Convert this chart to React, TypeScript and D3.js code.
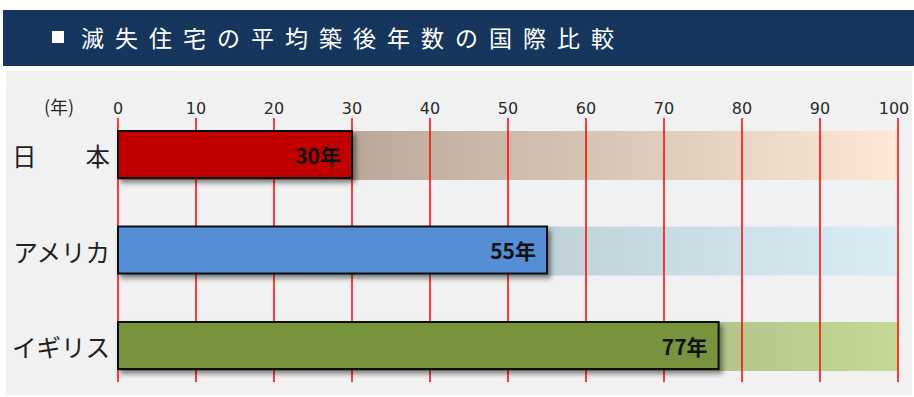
import React from "react";
import * as d3 from "d3";

const title = "滅失住宅の平均築後年数の国際比較";
const categories = ["日　　本", "アメリカ", "イギリス"];
const values = [30, 55, 77];
const valueLabels = ["30年", "55年", "77年"];
const ticks = [0, 10, 20, 30, 40, 50, 60, 70, 80, 90, 100];
const unitLabel = "(年)";
const barColors = ["#c00000", "#558ed5", "#77933c"];
const bandFrom = ["#bba89a", "#c0d2d8", "#b3c58c"];
const bandTo = ["#fde8d6", "#d9edf5", "#c4da95"];

const W = 914;
const H = 397;

export default function App() {
  const x = d3.scaleLinear().domain([0, 100]).range([118, 898]);
  const bh = 47;
  const centers = [154.5, 252.5, 345.5];
  const yc = d3.scaleLinear().domain([0, 2]).range([centers[0], centers[2]]);
  const font = "'Noto Sans CJK JP', 'Noto Sans', sans-serif";
  return (
    <div style={{ position: "absolute", left: 0, top: 0 }}>
      <svg width={W} height={H} style={{ display: "block" }}>
        <defs>
          <filter id="sh" x="-5%" y="-20%" width="115%" height="160%">
            <feDropShadow dx="3" dy="4" stdDeviation="2.5" floodColor="#000" floodOpacity="0.45" />
          </filter>
          {values.map((v, i) => (
            <linearGradient
              key={i}
              id={`g${i}`}
              gradientUnits="userSpaceOnUse"
              x1={x(v)}
              x2={x(100)}
              y1={0}
              y2={0}
            >
              <stop offset="0" stopColor={bandFrom[i]} />
              <stop offset="1" stopColor={bandTo[i]} />
            </linearGradient>
          ))}
        </defs>
        <rect x={0} y={0} width={W} height={H} fill="#ffffff" />
        <rect x={3} y={10} width={W - 3} height={56} fill="#17365d" />
        <rect x={52} y={31} width={12} height={12} fill="#ffffff" />
        <text
          x={81}
          y={37}
          dominantBaseline="central"
          fill="#ffffff"
          fontFamily={font}
          fontSize={23}
          letterSpacing={11}
        >
          {title}
        </text>
        <rect x={6} y={71} width={W - 8} height={324} fill="#f1f1f1" />

        {values.map((v, i) => {
          const c = yc(i);
          return (
            <rect
              key={`b${i}`}
              x={x(0)}
              y={c - bh / 2}
              width={x(100) - x(0)}
              height={bh + 2}
              fill={`url(#g${i})`}
            />
          );
        })}

        {ticks.map((t) => (
          <line
            key={`l${t}`}
            x1={x(t)}
            x2={x(t)}
            y1={118}
            y2={382}
            stroke="#ff0000"
            strokeWidth={1.5}
          />
        ))}

        {ticks.map((t) => (
          <text
            key={`t${t}`}
            x={t === 100 ? x(t) - 4 : x(t)}
            y={108}
            textAnchor="middle"
            dominantBaseline="central"
            fontFamily="'DejaVu Sans', sans-serif"
            fontSize={16}
            fill="#2a2a2a"
          >
            {t}
          </text>
        ))}
        <text
          x={59}
          y={106}
          textAnchor="middle"
          dominantBaseline="central"
          fontFamily={font}
          fontSize={18}
          fill="#2a2a2a"
        >
          {unitLabel}
        </text>

        {values.map((v, i) => {
          const c = yc(i);
          return (
            <g key={`r${i}`}>
              <rect
                x={x(0)}
                y={c - bh / 2}
                width={x(v) - x(0)}
                height={bh}
                fill={barColors[i]}
                stroke="#111"
                strokeWidth={2}
                filter="url(#sh)"
              />
              <text
                x={x(v) - 11}
                y={c}
                textAnchor="end"
                dominantBaseline="central"
                fontFamily={font}
                fontWeight="bold"
                fontSize={21}
                fill="#111"
              >
                {valueLabels[i]}
              </text>
              <text
                x={110}
                y={c + 1}
                textAnchor="end"
                dominantBaseline="central"
                fontFamily={font}
                fontSize={24.5}
                fill="#222"
              >
                {categories[i]}
              </text>
            </g>
          );
        })}
      </svg>
    </div>
  );
}
